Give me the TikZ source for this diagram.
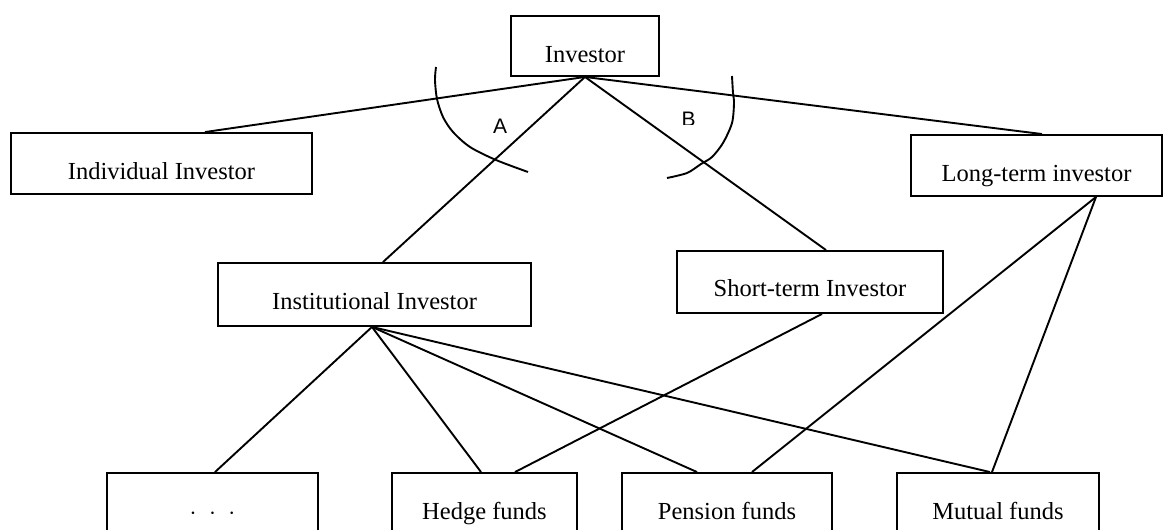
\documentclass[tikz,border=0pt]{standalone}
\usepackage{fontspec}
\setmainfont{Liberation Serif}
\newfontfamily\labelfont{Liberation Sans}
\begin{document}
\begin{tikzpicture}[x=1pt,y=-1pt,
  box/.style={draw, line width=1.9pt, rectangle, inner sep=0pt,
    text height=32pt, text depth=0pt,
    font=\fontsize{24.5}{29}\selectfont},
  link/.style={line width=1.9pt},
  arclabel/.style={anchor=base, inner sep=0pt, font=\labelfont\fontsize{21}{25}\selectfont}]
\useasboundingbox (0,0) rectangle (1163,530);
\fill[white] (0,0) rectangle (1163,530);
\clip (0,0) rectangle (1163,530);

% boxes
\node[box, minimum width=148pt, minimum height=60pt] (inv) at (585,46) {Investor};
\node[box, minimum width=301pt, minimum height=61pt] (ind) at (161.5,163.5) {Individual Investor};
\node[box, minimum width=251pt, minimum height=61pt] (lt) at (1036.5,165.5) {Long-term investor};
\node[box, minimum width=313pt, minimum height=63pt, text height=29pt] (inst) at (374.5,294.5) {Institutional Investor};
\node[box, minimum width=266pt, minimum height=62pt, text height=28pt] (st) at (810,282) {Short-term Investor};
\node[box, minimum width=211pt, minimum height=61pt] (dots) at (212.5,503.5) {$\cdot\;\cdot\;\cdot$};
\node[box, minimum width=185pt, minimum height=61pt] (hedge) at (484.5,503.5) {Hedge funds};
\node[box, minimum width=210pt, minimum height=61pt] (pens) at (727,503.5) {Pension funds};
\node[box, minimum width=202pt, minimum height=61pt] (mut) at (998,503.5) {Mutual funds};

% links from the top node
\draw[link] (inv.south) -- ([xshift=43.5pt]ind.north);
\draw[link] (inv.south) -- ([xshift=5.5pt]lt.north);
\draw[link] (inv.south) -- ([xshift=8.5pt]inst.north);
\draw[link] (inv.south) -- ([xshift=16pt]st.north);

% links from the institutional node
\draw[link] ([xshift=-2.5pt]inst.south) -- ([xshift=2.5pt]dots.north);
\draw[link] ([xshift=-2.5pt]inst.south) -- ([xshift=-3.5pt]hedge.north);
\draw[link] ([xshift=-2.5pt]inst.south) -- ([xshift=-30pt]pens.north);
\draw[link] ([xshift=-2.5pt]inst.south) -- ([xshift=-8pt]mut.north);

% links from short-term and long-term nodes
\draw[link] ([xshift=12pt]st.south) -- ([xshift=30.5pt]hedge.north);
\draw[link] ([xshift=59.5pt]lt.south) -- ([xshift=25pt]pens.north);
\draw[link] ([xshift=59.5pt]lt.south) -- ([xshift=-6pt]mut.north);

% arcs A and B
\draw[link] plot[smooth] coordinates {(436,67) (435,80) (437,99) (443,117) (453,132) (470,147) (496,160) (528,172)};
\draw[link] plot[smooth] coordinates {(732,76) (733,93) (734,103) (732,123) (723,143) (712,157) (701,164) (687,173) (667,178)};
\node[arclabel] (lblA) at (500,133.5) {A};
\begin{scope}
  \clip (670,100) rectangle (710,124.5);
  \node[arclabel] (lblB) at (688.5,126.5) {B};
\end{scope}
\end{tikzpicture}
\end{document}
